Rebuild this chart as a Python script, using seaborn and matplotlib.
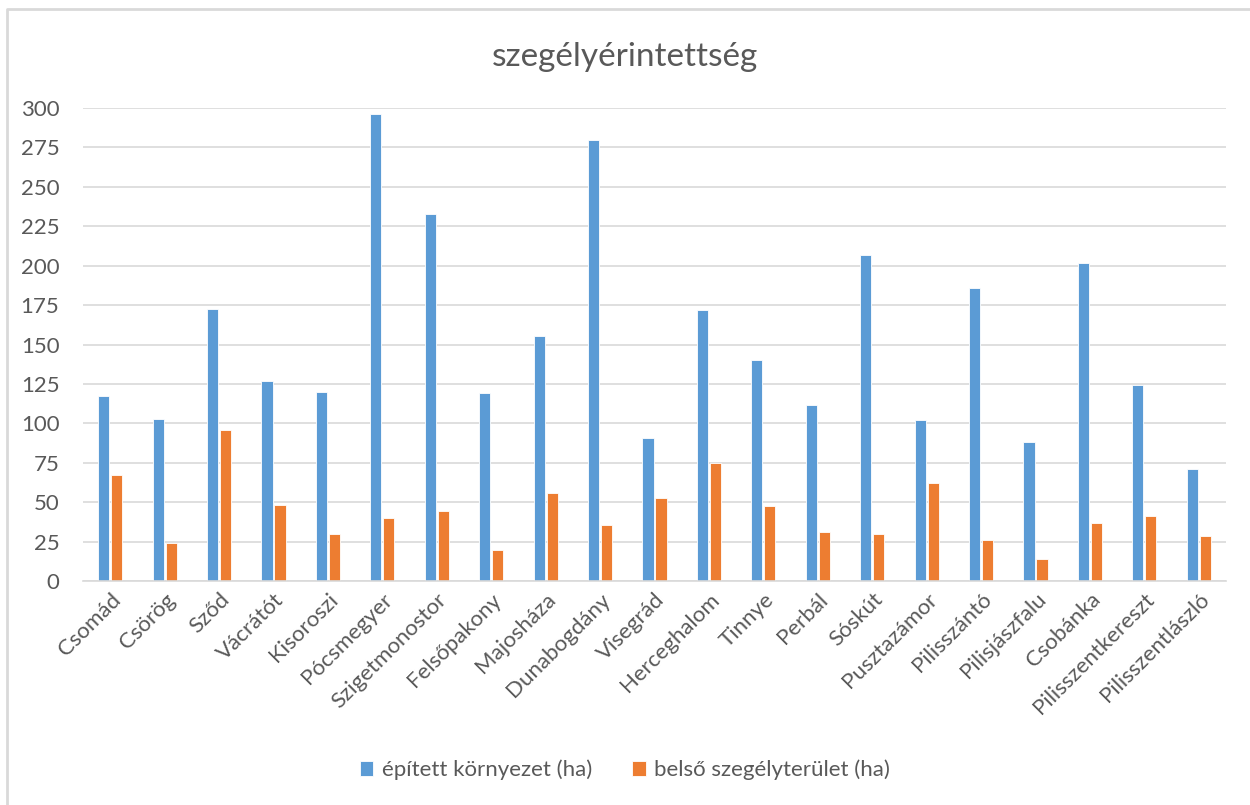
import matplotlib
matplotlib.use("Agg")
import matplotlib.pyplot as plt
from matplotlib.lines import Line2D
import pandas as pd
import seaborn as sns

# ---------------------------------------------------------------------------
# Daten
# ---------------------------------------------------------------------------
TELEPULESEK = [
    "Csomád", "Csörög", "Sződ", "Vácrátót", "Kisoroszi", "Pócsmegyer",
    "Szigetmonostor", "Felsőpakony", "Majosháza", "Dunabogdány", "Visegrád",
    "Herceghalom", "Tinnye", "Perbál", "Sóskút", "Pusztazámor", "Pilisszántó",
    "Pilisjászfalu", "Csobánka", "Pilisszentkereszt", "Pilisszentlászló",
]
EPITETT = [117.4, 102.6, 172.6, 127.1, 119.9, 296.2, 232.9, 119.1, 155.5,
           279.9, 90.5, 171.8, 140.0, 111.7, 206.9, 102.0, 185.7, 88.2,
           201.8, 124.0, 70.9]
SZEGELY = [67.1, 23.9, 95.6, 48.2, 29.6, 40.2, 44.2, 19.9, 55.6, 35.3, 52.5,
           75.1, 47.4, 31.1, 29.6, 62.0, 26.2, 14.2, 36.8, 41.0, 28.8]
SERIES = ["épített környezet (ha)", "belső szegélyterület (ha)"]
Y_TICKS = list(range(0, 301, 25))

# ---------------------------------------------------------------------------
# Stil
# ---------------------------------------------------------------------------
sns.set_theme(style="white")
plt.rcParams["font.family"] = ["Lato", "DejaVu Sans"]
TEXT_COLOR = "#595959"
GRID_COLOR = "#D9D9D9"
PALETTE = {SERIES[0]: "#5B9BD5", SERIES[1]: "#ED7D31"}

df = pd.DataFrame({
    "telepules": TELEPULESEK * 2,
    "ertek": EPITETT + SZEGELY,
    "sorozat": [SERIES[0]] * len(TELEPULESEK) + [SERIES[1]] * len(TELEPULESEK),
})

W, H = 1250, 805
fig = plt.figure(figsize=(W / 100, H / 100), dpi=100)
ax = fig.add_axes([83 / W, 1 - 581 / H, (1226 - 83) / W, (581 - 108) / H])

sns.barplot(
    data=df, x="telepules", y="ertek", hue="sorozat", palette=PALETTE,
    saturation=1, width=0.48, gap=0.15, edgecolor="white", linewidth=0.6, ax=ax,
)

ax.set_ylim(0, 300)
ax.set_yticks(Y_TICKS)
ax.set_xlim(-0.5, len(TELEPULESEK) - 0.5)
ax.yaxis.grid(True, color=GRID_COLOR, linewidth=1.2)
ax.set_axisbelow(True)
for side in ["top", "right", "left"]:
    ax.spines[side].set_visible(False)
ax.spines["bottom"].set_color(GRID_COLOR)
ax.spines["bottom"].set_linewidth(1.2)
ax.tick_params(axis="both", length=0, colors=TEXT_COLOR, labelsize=16)
ax.tick_params(axis="y", pad=17)
ax.tick_params(axis="x", pad=6)
plt.setp(ax.get_xticklabels(), rotation=45, ha="right", rotation_mode="anchor")
ax.set_xlabel("")
ax.set_ylabel("")

fig.text(0.5, 1 - 57 / H, "szegélyérintettség", ha="center", va="center",
         fontsize=24, color=TEXT_COLOR)

leg = ax.legend(
    loc="center", bbox_to_anchor=(0.5, 1 - 770 / H), bbox_transform=fig.transFigure,
    ncol=2, frameon=False, fontsize=16, handlelength=0.6, handleheight=0.6,
    columnspacing=1.8, handletextpad=0.4,
)
for t in leg.get_texts():
    t.set_color(TEXT_COLOR)

# Rahmen des Diagrammbereichs (oben und links sichtbar)
fig.lines.append(Line2D([7 / W, 7 / W, 1.0], [0.0, 1 - 9 / H, 1 - 9 / H],
                        transform=fig.transFigure, color=GRID_COLOR, linewidth=2))

fig.savefig("out.png", dpi=100)
